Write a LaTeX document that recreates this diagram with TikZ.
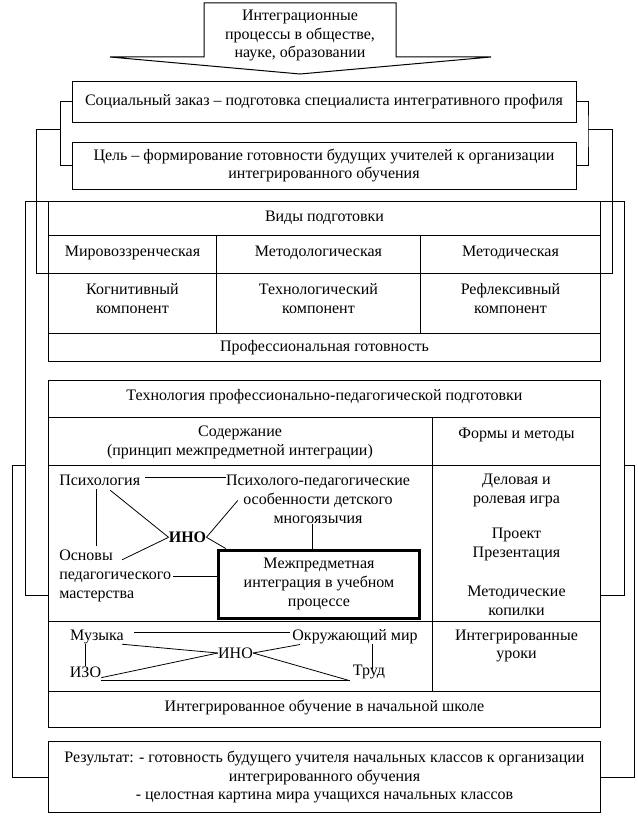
\documentclass[tikz,border=0pt]{standalone}
\usepackage{fontspec}
\setmainfont{Liberation Serif}
\usetikzlibrary{calc}

\begin{document}
\begin{tikzpicture}[x=0.75pt, y=-0.75pt,
  every node/.style={font=\fontsize{12}{14.2}\selectfont, align=center, inner sep=0pt},
  boldtext/.style={font=\fontsize{12}{14.2}\selectfont\bfseries},
  frame/.style={draw, line width=0.75pt},
  thickframe/.style={draw, line width=2.25pt},
  rule/.style={line width=0.75pt},
  link/.style={line width=0.6pt}]
  \useasboundingbox (0,0) rectangle (638,817);

  % Source arrow
  \draw[rule] (204,3) -- (396,3) -- (396,57) -- (491,57) -- (300,74) -- (110,57) -- (204,57) -- cycle;
  \node (src) at (300,35.5) {Интеграционные\\процессы в обществе,\\науке, образовании};

  % Social order and goal
  \node[frame, minimum width=378pt, minimum height=31pt] (soc) at (324,101.7) {Социальный заказ – подготовка специалиста интегративного профиля};
  \node[frame, minimum width=378pt, minimum height=35.25pt] (goal) at (324,165.5) {Цель – формирование готовности будущих учителей к организации\\интегрированного обучения};

  % Kinds of training
  \node[frame, minimum width=414.3pt, minimum height=120.2pt] (prep) at (324.5,281.85) {};
  \draw[rule] (48.3,235.3) -- (600.7,235.3);
  \draw[rule] (48.3,273) -- (600.7,273);
  \draw[rule] (48.3,333.3) -- (600.7,333.3);
  \draw[rule] (216.7,235.3) -- (216.7,333.3);
  \draw[rule] (420.3,235.3) -- (420.3,333.3);
  \node (kinds) at (324.5,218) {Виды подготовки};
  \node (world) at (132.5,253) {Мировоззренческая};
  \node (methl) at (318.5,253) {Методологическая};
  \node (methd) at (510.5,253) {Методическая};
  \node (cogn) at (132.5,298.3) {Когнитивный\\компонент};
  \node (techc) at (318.5,298.3) {Технологический\\компонент};
  \node (refl) at (510.5,298.3) {Рефлексивный\\компонент};
  \node (ready) at (324.5,348) {Профессиональная готовность};

  % Technology of training
  \node[frame, minimum width=414.3pt, minimum height=260.25pt] (techno) at (324.5,553.5) {};
  \draw[rule] (48.3,417) -- (600.7,417);
  \draw[rule] (48.3,465) -- (600.7,465);
  \draw[rule] (48.3,621.7) -- (600.7,621.7);
  \draw[rule] (48.3,691) -- (600.7,691);
  \draw[rule] (432.3,417) -- (432.3,691);
  \node (techt) at (324.5,397) {Технология профессионально-педагогической подготовки};
  \node (cont) at (240,442.5) {Содержание\\(принцип межпредметной интеграции)};
  \node (forms) at (516.5,435) {Формы и методы};
  \node (game) at (516.5,490.5) {Деловая и\\ролевая игра};
  \node (proj) at (516.5,544.7) {Проект\\Презентация};
  \node (bank) at (516.5,600.5) {Методические\\копилки};
  \node (lessons) at (516.5,646) {Интегрированные\\уроки};
  \node (school) at (324.5,707) {Интегрированное обучение в начальной школе};

  % Content of training
  \node[anchor=west] (psy) at (59,480.7) {Психология};
  \node (psyped) at (318,499) {Психолого-педагогические\\особенности детского\\многоязычия};
  \node[boldtext] (ino) at (187.5,537.3) {ИНО};
  \node[anchor=west, align=left] (osn) at (59,576) {Основы\\педагогического\\мастерства};
  \node[thickframe, minimum width=151pt, minimum height=51.2pt] (mip) at (319,584.2) {Межпредметная\\интеграция в учебном\\процессе};
  \coordinate (mq) at ($(psyped.south)+(-5.3,0)$);
  \draw[link] ($(psy.east)+(5,-3)$) -- ($(psy.east -| psyped.west)+(0,-3)$);
  \draw[link] ($(psy.south)+(-3,3)$) -- ($(psy.south |- osn.north)+(-3,-4)$);
  \draw[link] ($(psy.south west)!0.63!(psy.south east)+(0,4)$) -- (ino.west);
  \draw[link] ($(osn.north west)+(63,10)$) -- (ino.west);
  \draw[link] (ino.east) -- ($(psyped.north west)+(12,26)$);
  \draw[link] (ino.east) -- ($(mip.north west)+(9,0)$);
  \draw[link] ($(osn.east)+(2,0)$) -- (osn.east -| mip.west);
  \draw[link] (mq) -- (mq |- mip.north);

  % Integrated lessons
  \node (muz) at (97,637) {Музыка};
  \node (env) at (355,637) {Окружающий мир};
  \node (izo) at (85.5,672) {ИЗО};
  \node (ino2) at (235.5,653) {ИНО};
  \node (trud) at (369,672) {Труд};
  \coordinate (base) at ($(izo.south east)+(0,3)$);
  \coordinate (tq) at ($(trud.north)+(3.3,4)$);
  \draw[link] ($(muz.east)+(10,-5)$) -- ($(env.west)+(-2,-5)$);
  \draw[link] (muz.south -| izo.north) -- (izo.north);
  \draw[link] ($(muz.south east)+(-2,0)$) -- (ino2.west);
  \draw[link] (izo.south east) -- (ino2.west);
  \draw[link] (base) -- ($(base -| trud.west)+(-3,0)$);
  \draw[link] (ino2.east) -- ($(base -| trud.west)+(-3,0)$);
  \draw[link] (ino2.east) -- ($(env.south west)+(8,0)$);
  \draw[link] (tq |- env.south) -- (tq);

  % Result
  \node[frame, minimum width=414.3pt, minimum height=53.55pt] (res) at (324.5,777) {Результат: - готовность будущего учителя начальных классов к организации\\интегрированного обучения\\- целостная картина мира учащихся начальных классов};

  % Brackets
  \coordinate (lj) at (60.7,129);
  \coordinate (rj) at (588,129);
  \coordinate (prepl) at (48.3,273);
  \coordinate (prepr) at (600.7,273);
  \coordinate (technol) at (48.3,595.7);
  \coordinate (technor) at (600.7,595.7);
  \coordinate (cl) at (25,465);
  \coordinate (cr) at (624,465);
  \draw[rule] (soc.west) -| (lj) |- (goal.west);
  \draw[rule] (soc.east) -| (rj) |- (goal.east);
  \draw[rule] (lj) -- (36,129) |- (prepl);
  \draw[rule] (rj) -- (612,129) |- (prepr);
  \draw[rule] (prep.north west) -- (cl |- prep.north west) |- (technol);
  \draw[rule] (prep.north east) -- (cr |- prep.north east) |- (technor);
  \draw[rule] (cl) -- (12.7,465) |- (res.west);
  \draw[rule] (cr) -- (634.7,465) |- (res.east);
\end{tikzpicture}
\end{document}
